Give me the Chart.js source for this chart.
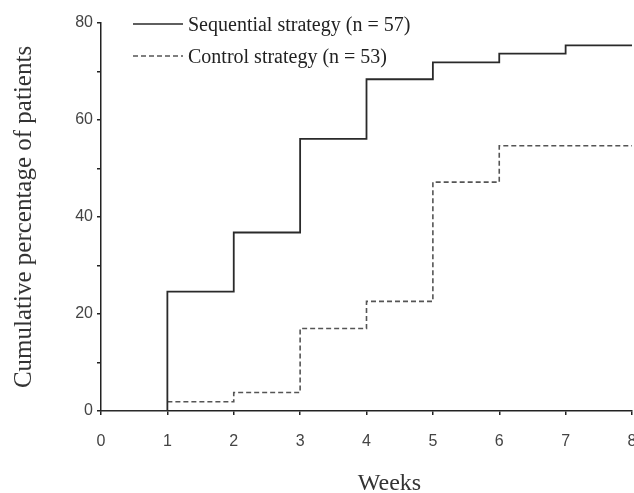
<!DOCTYPE html>
<html>
<head>
<meta charset="utf-8">
<script src="https://cdn.jsdelivr.net/npm/chart.js@4"></script>
<style>
  html, body { margin: 0; padding: 0; background: #fff; overflow: hidden; }
</style>
</head>
<body>
<canvas id="chart" width="634" height="493"></canvas>
<script>
/* Cumulative percentage of patients by week — step chart */

// ── Data ────────────────────────────────────────────────────

const weeks = [0, 1, 2, 3, 4, 5, 6, 7, 8];
const sequentialPct = [0, 24.6, 36.8, 56.1, 68.4, 71.9, 73.7, 75.4, 75.4];
const controlPct = [null, 1.9, 3.8, 17.0, 22.6, 47.2, 54.7, 54.7, 54.7];
const seriesLabels = ["Sequential strategy (n = 57)", "Control strategy (n = 53)"];
const yLabelTicks = [0, 20, 40, 60, 80];
const xTitle = "Weeks";
const yTitle = "Cumulative percentage of patients";

const SERIF = "'Liberation Serif', 'Times New Roman', serif";
const SANS = "'Liberation Sans', Arial, sans-serif";

function points(values) {
  return weeks.map((w, i) => ({ x: w, y: values[i] }));
}

// ── Legend + x title drawn in the paper's style ─────────────

const paperText = {
  id: "paperText",
  afterDraw(chart) {
    const { ctx, chartArea } = chart;
    ctx.save();
    chart.data.datasets.forEach((ds, i) => {
      const y = chartArea.top + 1 + i * 32;
      const x0 = chartArea.left + 32;
      ctx.beginPath();
      ctx.setLineDash(ds.borderDash || []);
      ctx.strokeStyle = ds.borderColor;
      ctx.lineWidth = 1.5;
      ctx.moveTo(x0, y);
      ctx.lineTo(x0 + 50, y);
      ctx.stroke();
      ctx.setLineDash([]);
      ctx.fillStyle = "#222";
      ctx.font = "20px " + SERIF;
      ctx.textAlign = "left";
      ctx.textBaseline = "alphabetic";
      ctx.fillText(ds.label, x0 + 55, y + 7);
    });
    ctx.font = "24px " + SERIF;
    ctx.fillStyle = "#333";
    ctx.textAlign = "center";
    ctx.fillText(xTitle, (chartArea.left + chartArea.right) / 2 + 23, 490);
    ctx.restore();
  },
};

// ── Chart ───────────────────────────────────────────────────

new Chart(document.getElementById("chart"), {
  type: "line",
  data: {
    datasets: [
      {
        label: seriesLabels[0],
        data: points(sequentialPct),
        stepped: "before",
        borderColor: "#2a2a2a",
        borderWidth: 1.8,
        pointRadius: 0,
      },
      {
        label: seriesLabels[1],
        data: points(controlPct),
        stepped: "before",
        borderColor: "#555555",
        borderWidth: 1.6,
        borderDash: [5, 3],
        pointRadius: 0,
      },
    ],
  },
  options: {
    responsive: false,
    animation: false,
    layout: { padding: { top: 23, right: 2, left: 0, bottom: 0 } },
    plugins: { legend: { display: false }, tooltip: { enabled: false } },
    scales: {
      x: {
        type: "linear",
        min: 0,
        max: 8,
        ticks: { stepSize: 1, padding: 17, color: "#444", font: { family: SANS, size: 16 } },
        grid: { drawOnChartArea: false, tickLength: 4, color: "#222", lineWidth: 1.5 },
        border: { color: "#222", width: 1.5 },
        afterFit: s => { s.height = 82; s.paddingLeft = 0; s.paddingRight = 0; },
      },
      y: {
        min: 0,
        max: 80,
        ticks: {
          stepSize: 10,
          padding: 4,
          color: "#444",
          font: { family: SANS, size: 16 },
          callback: v => (yLabelTicks.includes(v) ? v : ""),
        },
        grid: { drawOnChartArea: false, tickLength: 4, color: "#222", lineWidth: 1.5 },
        border: { color: "#222", width: 1.5 },
        title: {
          display: true,
          text: yTitle,
          color: "#333",
          font: { family: SERIF, size: 25 },
          padding: { top: 9, bottom: 0 },
        },
        afterFit: s => { s.width = 101; s.paddingTop = 0; s.paddingBottom = 0; },
      },
    },
  },
  plugins: [paperText],
});
</script>
</body>
</html>
